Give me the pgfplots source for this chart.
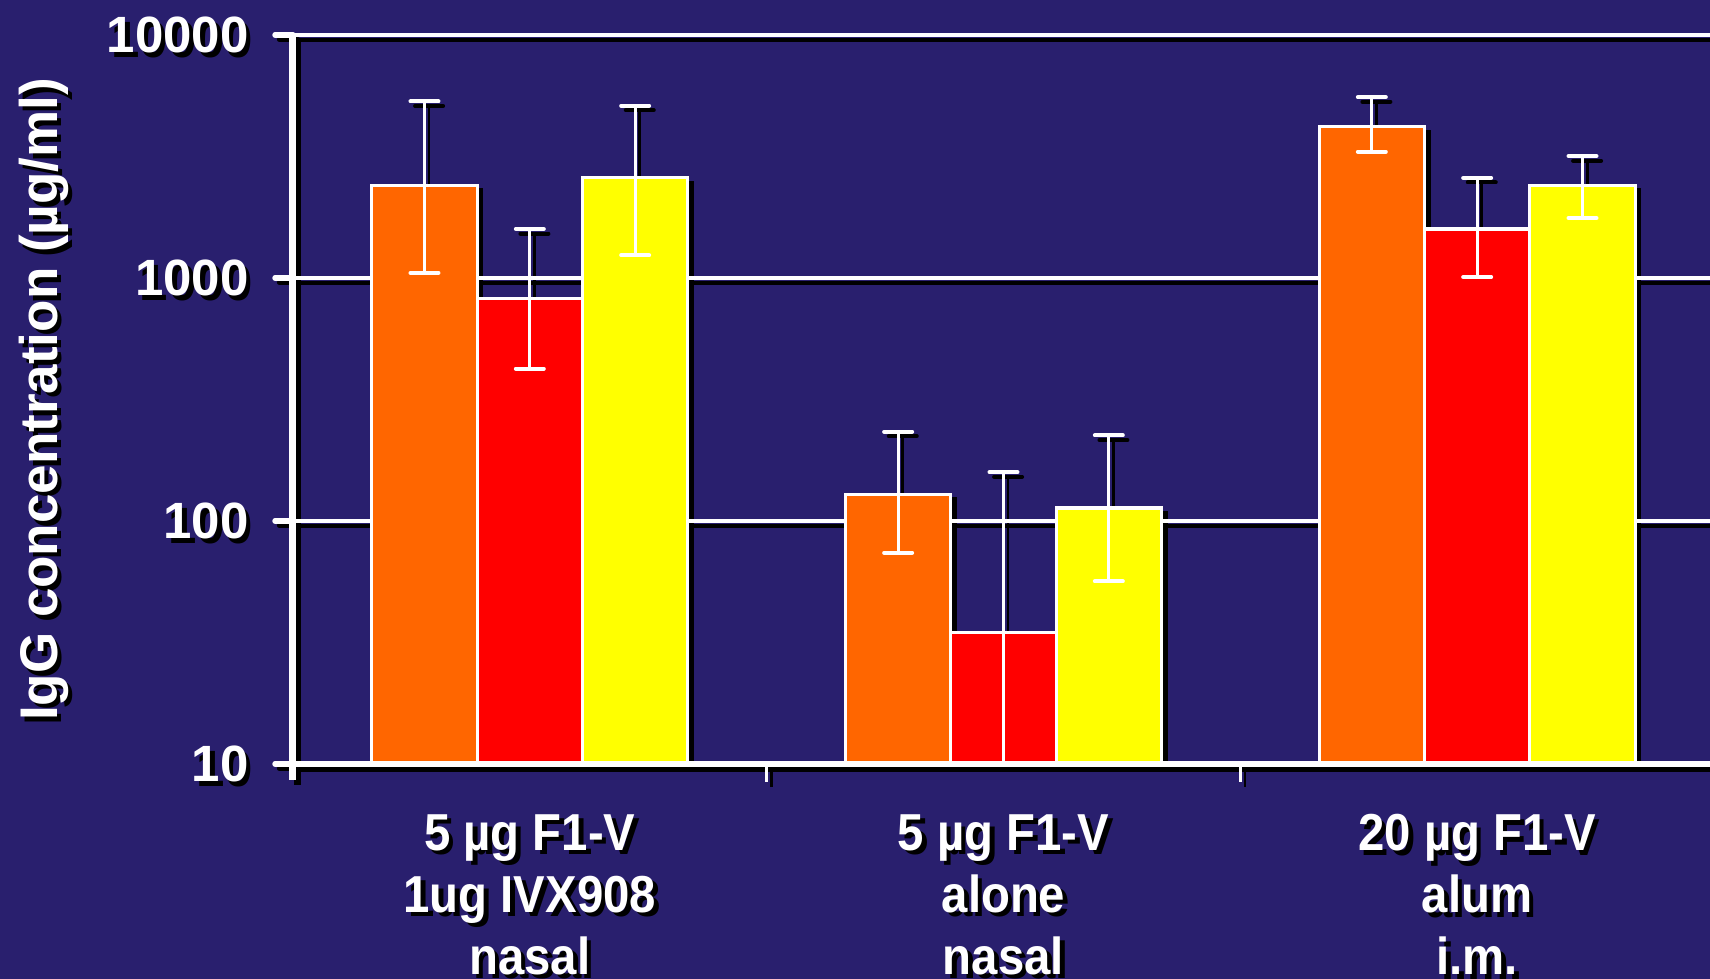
\documentclass[border=0pt]{standalone}
\usepackage{pgfplots}
\usepackage{pgfplotstable}
\pgfplotsset{compat=1.18}
\usepackage{fontspec}
\setmainfont{Liberation Sans}
\newfontfamily\catfont[FakeStretch=0.91]{Liberation Sans}
\definecolor{bg}{RGB}{41,31,110}
\definecolor{cO}{RGB}{255,102,0}
\definecolor{cR}{RGB}{255,0,0}
\definecolor{cY}{RGB}{255,255,0}

\pgfplotstableread{
x y ep em
0 2405 2925 1354
1 129 104 55
2 4200 1350 890
}\tabO
\pgfplotstableread{
x y ep em
0 821 771 397
1 34.8 124 24.8
2 1592 990 583
}\tabR
\pgfplotstableread{
x y ep em
0 2582 2538 1341
1 113 112 56.5
2 2405 772 639
}\tabY

\pgfplotsset{
  myaxisstyle/.style={
    scale only axis, width=710.5pt, height=364.5pt,
    xmin=-0.5, xmax=2.5, ymin=10, ymax=10000,
    axis x line*=bottom, axis y line*=left,
    axis line style={draw=none}, tick style={draw=none},
    major tick length=0pt, minor tick length=0pt, yminorticks=false,
    xtick={0,1,2},
    xticklabels={{5 µg F1-V\\1ug IVX908\\nasal},{5 µg F1-V\\alone\\nasal},{20 µg F1-V\\alum\\i.m.}},
    ytick={10,100,1000,10000}, yticklabels={10,100,1000,10000},
    xticklabel style={align=center, anchor=north, inner sep=0pt, yshift=-25pt, text=#1,
      font=\catfont\fontsize{26}{31}\selectfont\bfseries},
    yticklabel style={anchor=east, inner sep=0pt, xshift=-22pt, text=#1,
      font=\fontsize{25.5}{30}\selectfont\bfseries},
    ylabel={IgG concentration (µg/ml)},
    every axis y label/.style={at={(axis description cs:-0.1756,0.5)}, rotate=90, anchor=center, text=#1,
      font=\fontsize{26.5}{30}\selectfont\bfseries},
  },
  mybars/.style n args={2}{fill=#2, draw=#1, ybar, bar width=0.2224, bar shift=0, line width=1.6pt,
    error bars/y dir=both, error bars/y explicit, error bars/error mark=|,
    error bars/error bar style={#1, line width=1.4pt},
    error bars/error mark options={#1, line width=2pt, mark size=7pt, line cap=round}},
}

\newcommand{\gridlines}[1]{%
  \draw[#1, line width=2pt] (0,121.5pt) -- (710.5pt,121.5pt);
  \draw[#1, line width=2pt] (0,243pt) -- (710.5pt,243pt);
  \draw[#1, line width=2pt] (0,364.5pt) -- (710.5pt,364.5pt);
}
\newcommand{\axlines}[1]{%
  \draw[#1, line width=3.4pt] (0,0) -- (712pt,0);
  \draw[#1, line width=3.5pt] (0,365.5pt) -- (0,-8pt);
  \draw[#1, line width=2.7pt, line cap=round] (0,0) -- (-9pt,0);
  \draw[#1, line width=2.7pt, line cap=round] (0,121.5pt) -- (-9pt,121.5pt);
  \draw[#1, line width=2.7pt, line cap=round] (0,243pt) -- (-9pt,243pt);
  \draw[#1, line width=2.7pt, line cap=round] (0,364.5pt) -- (-9pt,364.5pt);
  \draw[#1, line width=1.3pt] (236.83pt,0) -- (236.83pt,-9pt);
  \draw[#1, line width=1.3pt] (473.67pt,0) -- (473.67pt,-9pt);
}

\begin{document}
\begin{tikzpicture}
\fill[bg] (-146.5pt,-107.5pt) rectangle (708.5pt,382pt);

% shadow copy
\begin{scope}[shift={(2.3pt,-2.3pt)}]
  \gridlines{black}
\end{scope}
\begin{semilogyaxis}[myaxisstyle=black, at={(2.3pt,-2.3pt)}, anchor=south west]
  \addplot[mybars={black}{black}]
    table[x expr=\thisrow{x}-0.2224, y=y, y error plus=ep, y error minus=em] {\tabO};
  \addplot[mybars={black}{black}]
    table[x=x, y=y, y error plus=ep, y error minus=em] {\tabR};
  \addplot[mybars={black}{black}]
    table[x expr=\thisrow{x}+0.2224, y=y, y error plus=ep, y error minus=em] {\tabY};
\end{semilogyaxis}
\begin{scope}[shift={(2.3pt,-2.3pt)}]
  \axlines{black}
\end{scope}

% main
\gridlines{white}
\begin{semilogyaxis}[myaxisstyle=white, at={(0pt,0pt)}, anchor=south west]
  \addplot[mybars={white}{cO}]
    table[x expr=\thisrow{x}-0.2224, y=y, y error plus=ep, y error minus=em] {\tabO};
  \addplot[mybars={white}{cR}]
    table[x=x, y=y, y error plus=ep, y error minus=em] {\tabR};
  \addplot[mybars={white}{cY}]
    table[x expr=\thisrow{x}+0.2224, y=y, y error plus=ep, y error minus=em] {\tabY};
\end{semilogyaxis}
\axlines{white}

\pgfresetboundingbox
\useasboundingbox (-146.5pt,-107.5pt) rectangle (708.5pt,382pt);
\end{tikzpicture}
\end{document}
